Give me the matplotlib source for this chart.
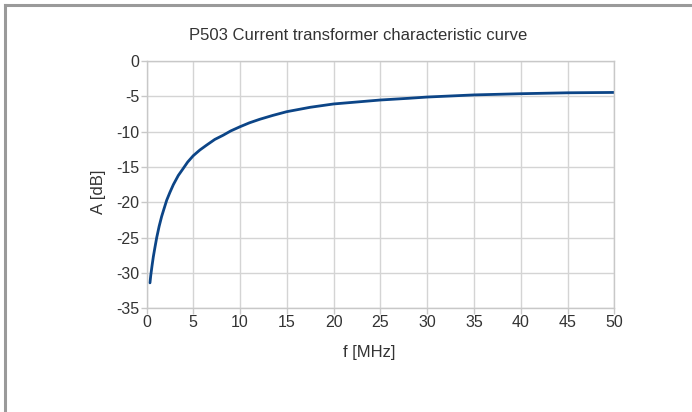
import matplotlib
matplotlib.use("Agg")
import matplotlib.pyplot as plt
from matplotlib.lines import Line2D

plt.rcParams['font.family'] = ['Liberation Sans', 'DejaVu Sans']
plt.rcParams['axes.unicode_minus'] = False

# frequency [MHz] and attenuation [dB]
freq = [0.37, 0.45, 0.6, 0.73, 0.9, 1.09, 1.35, 1.62, 1.9, 2.16, 2.5, 2.87,
        3.4, 3.93, 4.4, 5.0, 5.7, 6.43, 7.3, 8.2, 9.0, 10.0, 11.0, 12.1, 13.5,
        15.0, 17.5, 20.0, 22.5, 25.0, 28.0, 30.0, 35.0, 40.0, 45.0, 50.0]
atten = [-31.4, -30.4, -28.9, -27.7, -26.4, -25.0, -23.4, -22.0, -20.8, -19.7,
         -18.6, -17.5, -16.2, -15.2, -14.3, -13.4, -12.6, -11.9, -11.1, -10.5,
         -9.9, -9.3, -8.75, -8.25, -7.7, -7.17, -6.55, -6.08, -5.8, -5.52,
         -5.28, -5.1, -4.8, -4.63, -4.5, -4.45]

xticks = list(range(0, 55, 5))
yticks = list(range(-35, 5, 5))

W, H = 692, 412
fig = plt.figure(figsize=(W / 100, H / 100), dpi=100)

# grey frame at top and left like the exported chart
fig.add_artist(Line2D([5 / W, 5 / W], [0, 1 - 5 / H], transform=fig.transFigure,
                      color='#9a9a9a', lw=2.2))
fig.add_artist(Line2D([5 / W, 1], [1 - 5 / H, 1 - 5 / H], transform=fig.transFigure,
                      color='#9a9a9a', lw=2.2))

left, right, top, bottom = 146.5, 614.3, 61, 308.3
ax = fig.add_axes([left / W, 1 - bottom / H, (right - left) / W, (bottom - top) / H])

ax.plot(freq, atten, color='#0c4587', lw=2.0, solid_capstyle='round',
        solid_joinstyle='round')

ax.set_xlim(0, 50)
ax.set_ylim(-35, 0)
ax.set_xticks(xticks)
ax.set_yticks(yticks)
ax.grid(True, color='#d4d4d4', lw=1.0)
ax.set_axisbelow(True)
for s in ax.spines.values():
    s.set_color('#c8c8c8')
    s.set_linewidth(1.0)
ax.tick_params(colors='#c8c8c8', labelcolor='#333333', labelsize=11.5,
               length=4, width=1.0, pad=1)

fig.text(358 / W, 1 - 36 / H, 'P503 Current transformer characteristic curve',
         ha='center', va='center', fontsize=12, color='#333333')
fig.text(369.5 / W, 1 - 352 / H, 'f [MHz]', ha='center', va='center',
         fontsize=12, color='#333333')
fig.text(98 / W, 1 - 192 / H, 'A [dB]', ha='center', va='center',
         rotation=90, fontsize=12, color='#333333')

fig.savefig('out.png', dpi=100)
